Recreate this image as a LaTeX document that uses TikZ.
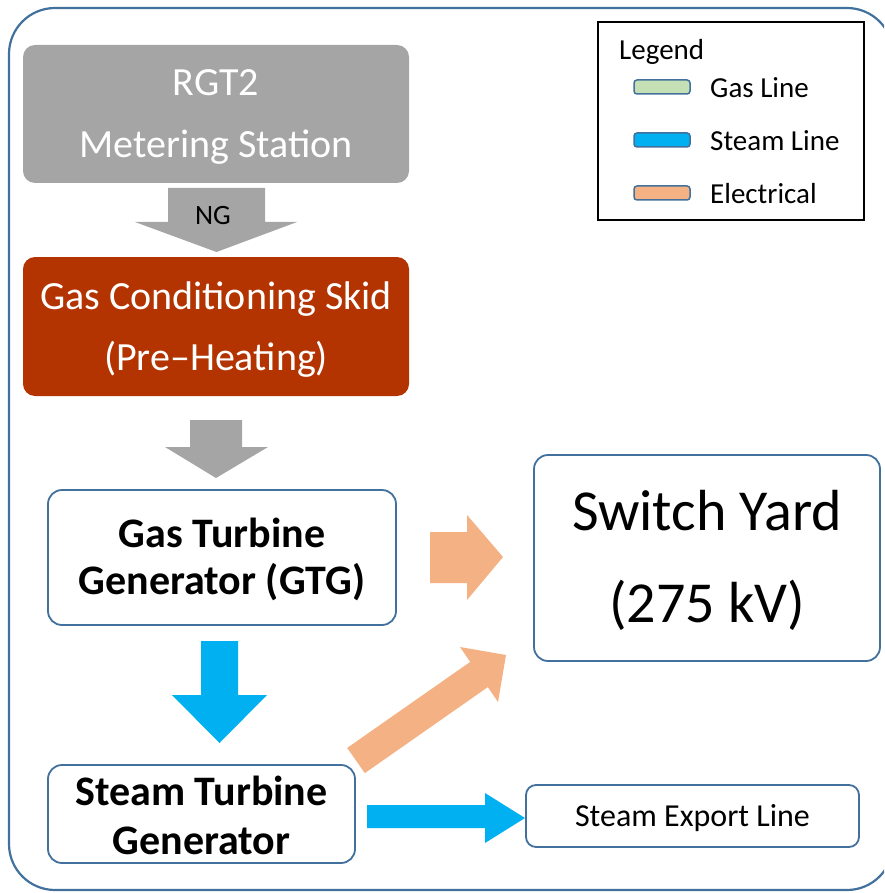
\documentclass[tikz,border=0pt]{standalone}
\usepackage{fontspec}
\setmainfont{Carlito}
\definecolor{frameblue}{HTML}{41719C}
\definecolor{meter}{HTML}{A5A5A5}
\definecolor{skid}{HTML}{B33400}
\definecolor{steam}{HTML}{00B0F0}
\definecolor{elec}{HTML}{F4B183}
\definecolor{gasgreen}{HTML}{C5E0B4}
\begin{document}
\begin{tikzpicture}[x=1pt,y=-1pt,
  solidbox/.style={rectangle, rounded corners=12pt, inner sep=0pt},
  plainbox/.style={rectangle, draw=frameblue, line width=1.8pt, rounded corners=14pt, fill=white, inner sep=0pt},
  boxtext/.style={inner sep=0pt, align=center},
  swatch/.style={draw=frameblue, line width=1.5pt, rounded corners=3pt},
  legtext/.style={anchor=west, inner sep=0pt, font=\fontsize{29}{34}\selectfont}
]
\useasboundingbox (0,0) rectangle (884,893);
\begin{scope}
\clip (0,0) rectangle (884,893);
% outer frame
\draw[frameblue, line width=2.2pt, rounded corners=46pt] (9,8) rectangle (893,890);
\end{scope}

% process blocks
\node[solidbox, fill=meter, minimum width=386pt, minimum height=138pt] (meter) at (216,114) {};
\node[boxtext, text=white, font=\fontsize{40}{62}\selectfont] (metertxt)
  at ([yshift=-3pt]meter.center) {RGT2\\Metering Station};
\node[solidbox, fill=skid, minimum width=386pt, minimum height=139pt] (skid) at (216,326.5) {};
\node[boxtext, text=white, font=\fontsize{40}{61}\selectfont] (skidtxt)
  at ([yshift=-3.5pt]skid.center) {Gas Conditioning Skid\\(Pre–Heating)};
\node[plainbox, minimum width=348pt, minimum height=135pt] (gtg) at (222,557.5) {};
\node[boxtext, font=\bfseries\fontsize{42}{47}\selectfont] (gtgtxt)
  at ([yshift=-1.5pt]gtg.center) {Gas Turbine\\Generator (GTG)};
\node[plainbox, minimum width=307pt, minimum height=98pt] (stg) at (201.5,814) {};
\node[boxtext, font=\bfseries\fontsize{42}{49}\selectfont] (stgtxt)
  at ([yshift=-1pt]stg.center) {Steam Turbine\\Generator};
\node[plainbox, minimum width=346pt, minimum height=206pt] (yard) at (707,558) {};
\node[boxtext, font=\fontsize{58}{92}\selectfont] (yardtxt)
  at ([yshift=-2pt]yard.center) {Switch Yard\\(275 kV)};
\node[plainbox, minimum width=333pt, minimum height=62pt, rounded corners=10pt] (export) at (692.5,816) {};
\node[boxtext, font=\fontsize{32}{36}\selectfont] (exporttxt)
  at ([yshift=-2.5pt]export.center) {Steam Export Line};

% block arrows between the stages
\fill[meter] (168,188) -- (265,188) -- (265,222) -- (297,222) -- (216.5,252)
  -- (135,222) -- (168,222) -- cycle;
\node[inner sep=0pt, font=\fontsize{28}{32}\selectfont] (ng) at (213,216) {NG};
\fill[meter] (190,420) -- (242,420) -- (242,447) -- (268,447) -- (216,478)
  -- (165,447) -- (190,447) -- cycle;
\fill[steam] (201,641) -- (238,641) -- (238,695) -- (267,695) -- (219.5,743)
  -- (172,695) -- (201,695) -- cycle;
\fill[steam] (367,805) -- (485,805) -- (485,793) -- (525,818) -- (485,843)
  -- (485,828) -- (367,828) -- cycle;
\fill[elec] (430,532) -- (467,532) -- (467,515) -- (503,557) -- (467,600)
  -- (467,583) -- (430,583) -- cycle;
\fill[elec] (347.2,747.9) -- (470.2,661.9) -- (460,647) -- (506,655) -- (498,702)
  -- (487.8,687.1) -- (364.8,773.1) -- cycle;

% legend
\draw[black, line width=2.2pt, fill=white] (598,22) rectangle (864,220);
\node[legtext] (legtitle) at (619,52) {Legend};
\draw[swatch, fill=gasgreen] (634,80) rectangle (690,94);
\draw[swatch, fill=steam] (634,133) rectangle (690,147);
\draw[swatch, fill=elec] (634,186) rectangle (690,200);
\node[legtext] (leggas) at (710,88) {Gas Line};
\node[legtext] (legsteam) at (710,141) {Steam Line};
\node[legtext] (legelec) at (710,194) {Electrical};
\end{tikzpicture}
\end{document}
